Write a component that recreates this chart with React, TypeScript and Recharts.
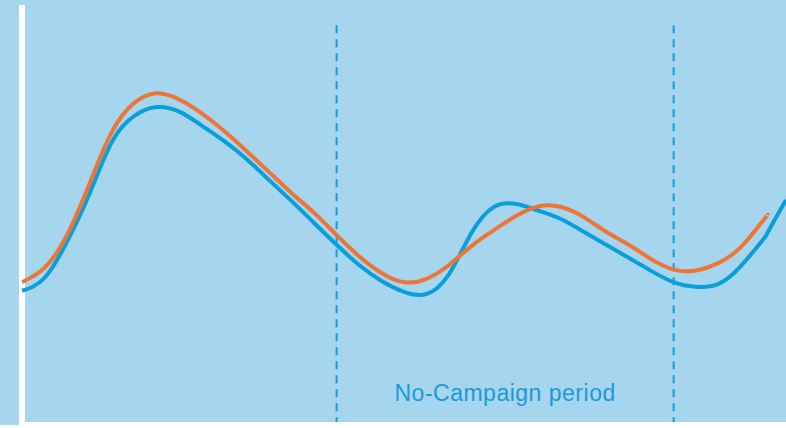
import { LineChart, Line, XAxis, YAxis, ReferenceLine, ReferenceArea } from 'recharts';

// day index along the period
const days = [
  0, 5, 10, 15, 20, 25, 30, 35, 40, 45, 50, 55, 60, 65, 70, 75, 80, 85, 90,
  95, 100, 105, 110, 115, 120, 125, 130, 135, 140, 145, 150, 155, 160, 165, 166, 170,
];

// index values for the two series
const seriesA = [
  32.0, 35.0, 43.6, 55.0, 67.4, 73.6, 75.7, 74.6, 71.3, 67.6, 63.3, 58.3, 53.3, 48.1, 42.9, 38.1, 34.3, 31.7, 31.2,
  35.9, 45.7, 51.9, 52.6, 51.0, 49.0, 46.0, 42.9, 39.8, 36.7, 34.0, 32.9, 33.6, 37.9, 44.3, 46.0, 53.6,
];
const seriesB = [
  34.0, 37.4, 45.2, 57.4, 69.8, 76.7, 79.0, 77.5, 74.2, 70.0, 65.2, 60.2, 55.2, 50.5, 45.2, 40.2, 36.2, 34.0, 34.8,
  38.1, 42.6, 46.4, 49.8, 52.1, 51.9, 49.5, 46.0, 42.9, 39.5, 37.0, 36.8, 38.6, 42.4, 48.8, 50.0, null,
];

const periodStart = 70;
const periodEnd = 145;
const periodLabel = 'No-Campaign period';

const data = days.map((d, i) => ({ day: d, a: seriesA[i], b: seriesB[i] }));

const BG = '#a6d5ee';
const BLUE = '#0a9edb';
const ORANGE = '#ee7535';
const DASH = '#1a9ad8';

const axisLine = { stroke: '#ffffff', strokeWidth: 6 };

export default function App() {
  return (
    <div
      style={{
        position: 'fixed',
        left: 0,
        top: 0,
        width: 786,
        height: 428,
        background: `linear-gradient(${BG} 425px, #ffffff 425px)`,
      }}
    >
      <LineChart width={786} height={428} data={data} margin={{ top: 5, right: 0, bottom: 2, left: 21 }}>
        <XAxis
          dataKey="day"
          type="number"
          domain={[0, 170]}
          height={1}
          tick={false}
          tickLine={false}
          axisLine={axisLine}
        />
        <YAxis
          type="number"
          domain={[0, 100]}
          width={1}
          tick={false}
          tickLine={false}
          axisLine={axisLine}
        />
        <ReferenceArea
          x1={periodStart}
          x2={periodEnd}
          fill="none"
          fillOpacity={0}
          label={{
            value: periodLabel,
            position: 'insideBottom',
            offset: 24,
            fill: DASH,
            fontSize: 23,
            fontFamily: 'Liberation Sans, Arial, sans-serif',
            letterSpacing: 0.5,
          }}
        />
        <ReferenceLine
          segment={[{ x: periodStart, y: 95.2 }, { x: periodStart, y: 0 }]}
          stroke={DASH}
          strokeWidth={2}
          strokeDasharray="8 6"
        />
        <ReferenceLine
          segment={[{ x: periodEnd, y: 95.2 }, { x: periodEnd, y: 0 }]}
          stroke={DASH}
          strokeWidth={2}
          strokeDasharray="8 6"
        />
        <Line
          type="natural"
          dataKey="a"
          stroke={BLUE}
          strokeWidth={4}
          dot={false}
          zIndex={700}
          isAnimationActive={false}
        />
        <Line
          type="natural"
          dataKey="b"
          stroke={ORANGE}
          strokeWidth={4}
          dot={false}
          zIndex={700}
          connectNulls={false}
          isAnimationActive={false}
        />
      </LineChart>
    </div>
  );
}
